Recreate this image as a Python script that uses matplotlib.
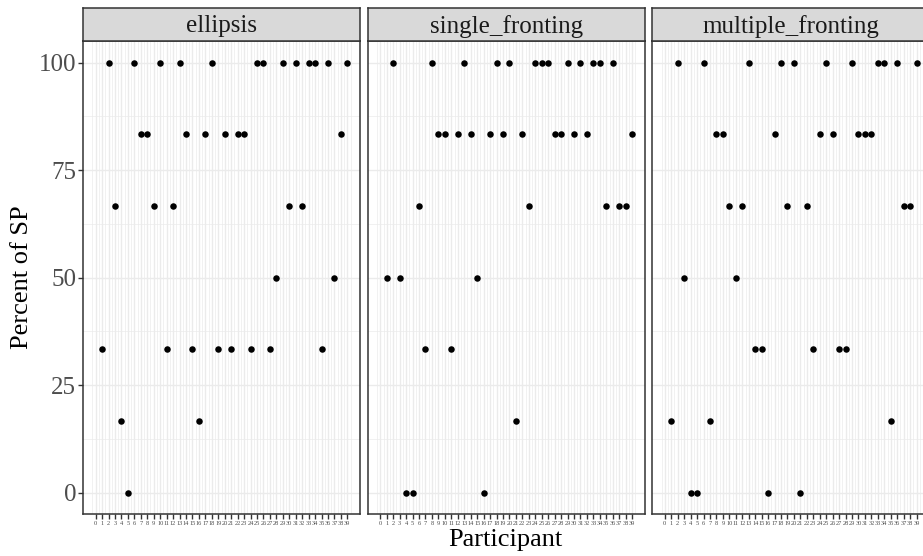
import numpy as np
import matplotlib
matplotlib.use("Agg")
import matplotlib.pyplot as plt

plt.rcParams['font.family'] = ['Liberation Serif', 'DejaVu Serif']

# participant ids on the axis and the ones that have data
tick_ids = list(range(0, 40))
participants = list(range(1, 40))

conditions = ["ellipsis", "single_fronting", "multiple_fronting"]

ellipsis = [33.33, 100, 66.67, 16.67, 0, 100, 83.33, 83.33, 66.67, 100,
            33.33, 66.67, 100, 83.33, 33.33, 16.67, 83.33, 100, 33.33, 83.33,
            33.33, 83.33, 83.33, 33.33, 100, 100, 33.33, 50, 100, 66.67,
            100, 66.67, 100, 100, 33.33, 100, 50, 83.33, 100]

single_fronting = [50, 100, 50, 0, 0, 66.67, 33.33, 100, 83.33, 83.33,
                   33.33, 83.33, 100, 83.33, 50, 0, 83.33, 100, 83.33, 100,
                   16.67, 83.33, 66.67, 100, 100, 100, 83.33, 83.33, 100, 83.33,
                   100, 83.33, 100, 100, 66.67, 100, 66.67, 66.67, 83.33]

multiple_fronting = [16.67, 100, 50, 0, 0, 100, 16.67, 83.33, 83.33, 66.67,
                     50, 66.67, 100, 33.33, 33.33, 0, 83.33, 100, 66.67, 100,
                     0, 66.67, 33.33, 83.33, 100, 83.33, 33.33, 33.33, 100, 83.33,
                     83.33, 83.33, 100, 100, 16.67, 100, 66.67, 66.67, 100]

y_ticks = [0, 25, 50, 75, 100]

series = [ellipsis, single_fronting, multiple_fronting]

W, H = 923, 556
fig = plt.figure(figsize=(W / 100, H / 100), dpi=100)

panel_left = [83, 367.7, 652.2]
panel_w = 277
panel_top = 41
panel_bot = 514.3
strip_top = 8

grid_col = "#EBEBEB"
border_col = "#333333"

for i in range(3):
    l = panel_left[i] / W
    b = (H - panel_bot) / H
    ax = fig.add_axes([l, b, panel_w / W, (panel_bot - panel_top) / H])
    ax.set_xlim(-1.95, 40.95)
    ax.set_ylim(-5, 105)
    ax.set_xticks(tick_ids)
    ax.set_xticks(np.arange(-0.5, 40, 1.0), minor=True)
    ax.set_yticks(y_ticks)
    ax.set_yticks([12.5, 37.5, 62.5, 87.5], minor=True)
    ax.grid(which="major", color=grid_col, linewidth=1.0, zorder=0)
    ax.grid(which="minor", color=grid_col, linewidth=0.5, zorder=0)
    ax.set_axisbelow(True)
    ax.scatter(participants, series[i], s=22, color="black", zorder=3,
               linewidths=0)
    for sp in ax.spines.values():
        sp.set_color(border_col)
        sp.set_linewidth(1.1)
    ax.tick_params(which="minor", length=0)
    ax.tick_params(which="major", color=border_col, length=3.5, width=1.0)
    ax.set_xticklabels([str(t) for t in tick_ids], fontsize=4.6, color="#4D4D4D")
    if i == 0:
        ax.set_yticklabels([str(t) for t in y_ticks], fontsize=18, color="#4D4D4D")
        ax.tick_params(axis="y", pad=1.5)
    else:
        ax.tick_params(axis="y", which="both", left=False, labelleft=False)
    ax.tick_params(axis="x", pad=1.5)

    # facet strip
    sax = fig.add_axes([l, (H - panel_top) / H, panel_w / W, (panel_top - strip_top) / H])
    sax.set_facecolor("#D9D9D9")
    sax.set_xticks([])
    sax.set_yticks([])
    for sp in sax.spines.values():
        sp.set_color(border_col)
        sp.set_linewidth(1.1)
    sax.text(0.5, 0.45, conditions[i], ha="center", va="center",
             fontsize=18, color="#1A1A1A", transform=sax.transAxes)

fig.text(505 / W, 1 - 540 / H, "Participant", ha="center", va="center", fontsize=19)
fig.text(22 / W, 1 - 277 / H, "Percent of SP", ha="center", va="center",
         rotation=90, fontsize=19)

fig.savefig("out.png", dpi=100)
